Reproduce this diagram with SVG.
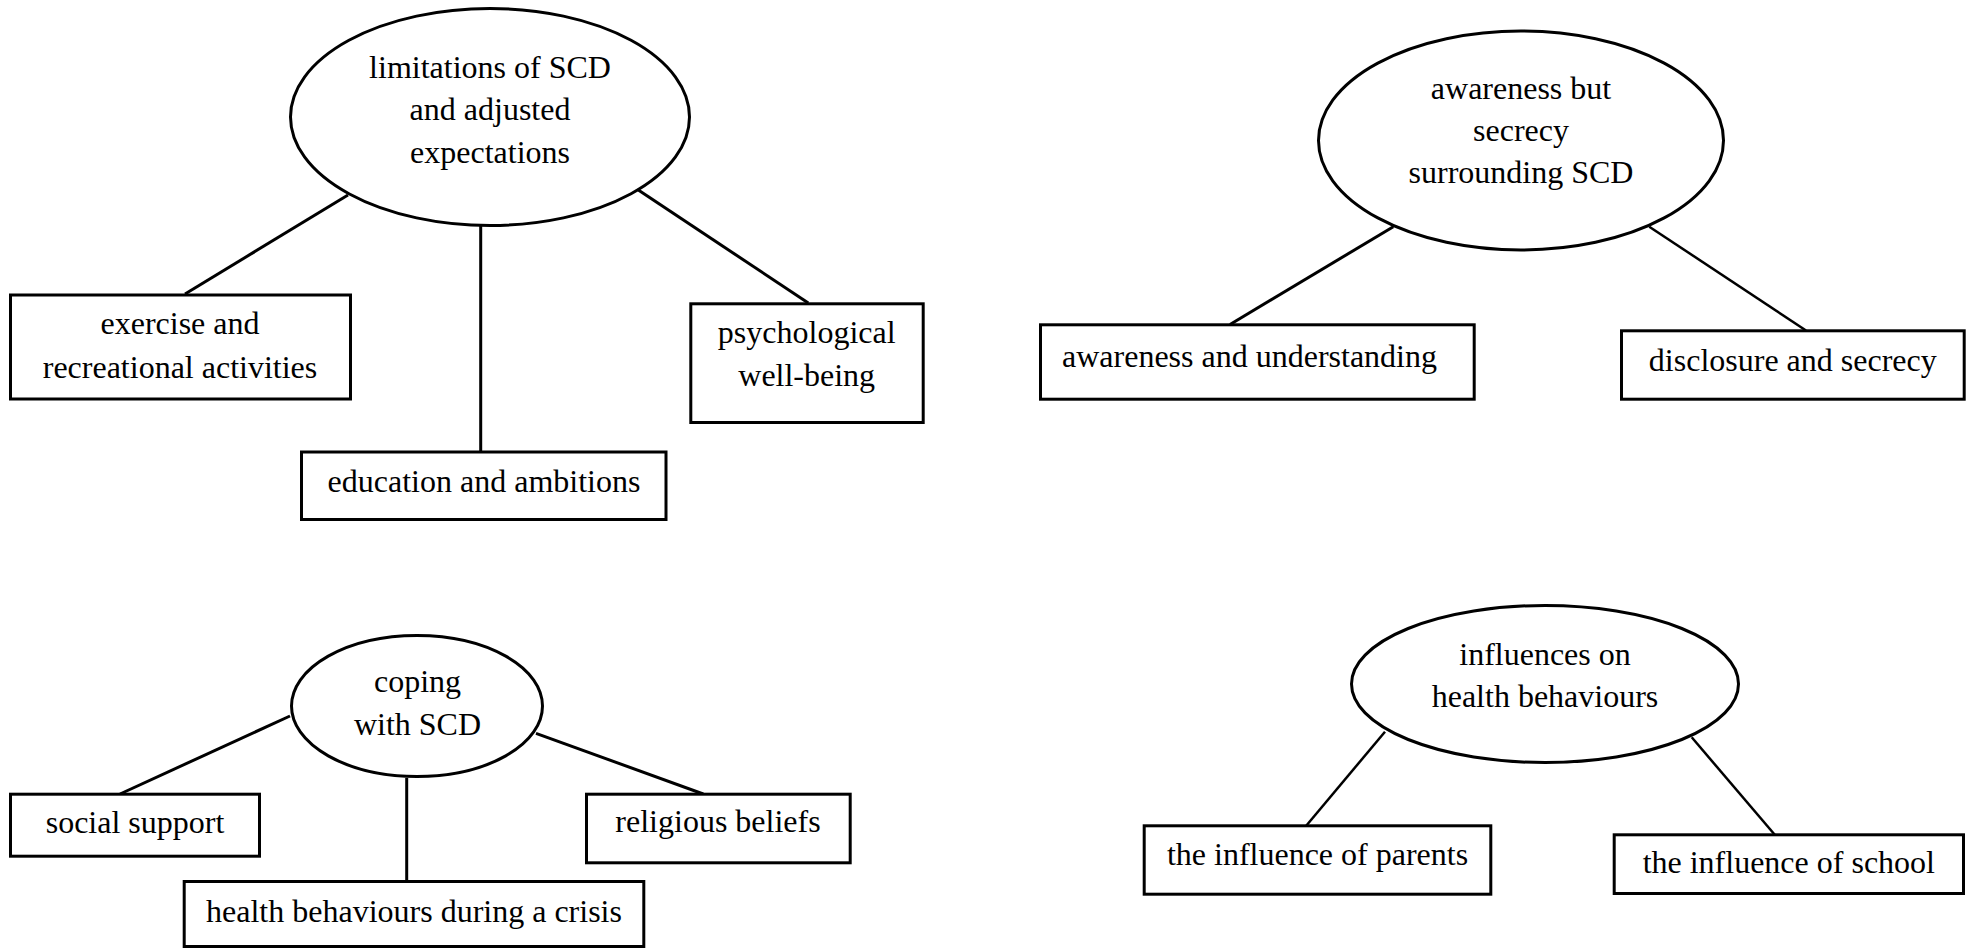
<svg xmlns="http://www.w3.org/2000/svg" width="1972" height="949" viewBox="0 0 1972 949">
<style>
.bg{fill:#ffffff}
.n{fill:#ffffff;stroke:#000000;stroke-width:3}
.c line{stroke:#000000;stroke-width:3;stroke-linecap:butt}
.c line.thin{stroke-width:2.5}
text{font-family:"Liberation Serif","Times New Roman",serif;font-size:32px;fill:#000000;text-anchor:middle}
text.l{text-anchor:start}
</style>
<rect class="bg" x="0" y="0" width="1972" height="949"/>
<g id="connectors" class="c">
<line x1="348" y1="195" x2="185" y2="294"/>
<line x1="480.7" y1="226" x2="480.7" y2="452"/>
<line x1="638.3" y1="190" x2="808.3" y2="303"/>
<line x1="1393.3" y1="226.7" x2="1230" y2="324.5"/>
<line class="thin" x1="1649.3" y1="226.7" x2="1806" y2="330.5"/>
<line x1="290" y1="716" x2="120" y2="794"/>
<line x1="406.7" y1="778" x2="406.7" y2="881.5"/>
<line x1="536" y1="733.3" x2="703.3" y2="794"/>
<line class="thin" x1="1385" y1="731.7" x2="1306" y2="826"/>
<line class="thin" x1="1691.7" y1="737.3" x2="1775" y2="835"/>
</g>
<g id="n-limitations">
<ellipse class="n" cx="490" cy="117" rx="199.5" ry="108.5"/>
<text x="490" y="77.5">limitations of SCD</text>
<text x="490" y="120">and adjusted</text>
<text x="490" y="162.5">expectations</text>
</g>
<g id="n-exercise">
<rect class="n" x="10.5" y="295" width="340" height="104"/>
<text x="180" y="334">exercise and</text>
<text x="180" y="377.5">recreational activities</text>
</g>
<g id="n-education">
<rect class="n" x="301.5" y="452" width="364.5" height="67.5"/>
<text x="484" y="491.7">education and ambitions</text>
</g>
<g id="n-psychological">
<rect class="n" x="690.8" y="303.8" width="232.4" height="118.7"/>
<text x="806.7" y="343.3">psychological</text>
<text x="806.7" y="385.7">well-being</text>
</g>
<g id="n-awareness-secrecy">
<ellipse class="n" cx="1521" cy="140.5" rx="202.5" ry="109.5"/>
<text x="1521" y="99">awareness but</text>
<text x="1521" y="141">secrecy</text>
<text x="1521" y="183">surrounding SCD</text>
</g>
<g id="n-awareness-understanding">
<rect class="n" x="1040.5" y="324.8" width="433.7" height="74.4"/>
<text class="l" x="1062" y="366.7">awareness and understanding</text>
</g>
<g id="n-disclosure">
<rect class="n" x="1621.5" y="330.8" width="342.7" height="68.4"/>
<text x="1792.8" y="371">disclosure and secrecy</text>
</g>
<g id="n-coping">
<ellipse class="n" cx="417" cy="706" rx="125.5" ry="70.5"/>
<text x="417.5" y="692">coping</text>
<text x="417.5" y="735">with SCD</text>
</g>
<g id="n-social">
<rect class="n" x="10.5" y="794.2" width="249" height="62"/>
<text x="135" y="833.3">social support</text>
</g>
<g id="n-health-crisis">
<rect class="n" x="184.2" y="881.5" width="459.6" height="65"/>
<text x="414" y="921.7">health behaviours during a crisis</text>
</g>
<g id="n-religious">
<rect class="n" x="586.5" y="794.2" width="263.7" height="68.6"/>
<text x="718" y="832.3">religious beliefs</text>
</g>
<g id="n-influences">
<ellipse class="n" cx="1545" cy="684" rx="193.5" ry="78.5"/>
<text x="1545" y="665">influences on</text>
<text x="1545" y="707">health behaviours</text>
</g>
<g id="n-parents">
<rect class="n" x="1144.2" y="825.8" width="346.6" height="68.4"/>
<text x="1317.5" y="865">the influence of parents</text>
</g>
<g id="n-school">
<rect class="n" x="1614.2" y="834.8" width="349.3" height="58.7"/>
<text x="1788.8" y="873.3">the influence of school</text>
</g>
</svg>
